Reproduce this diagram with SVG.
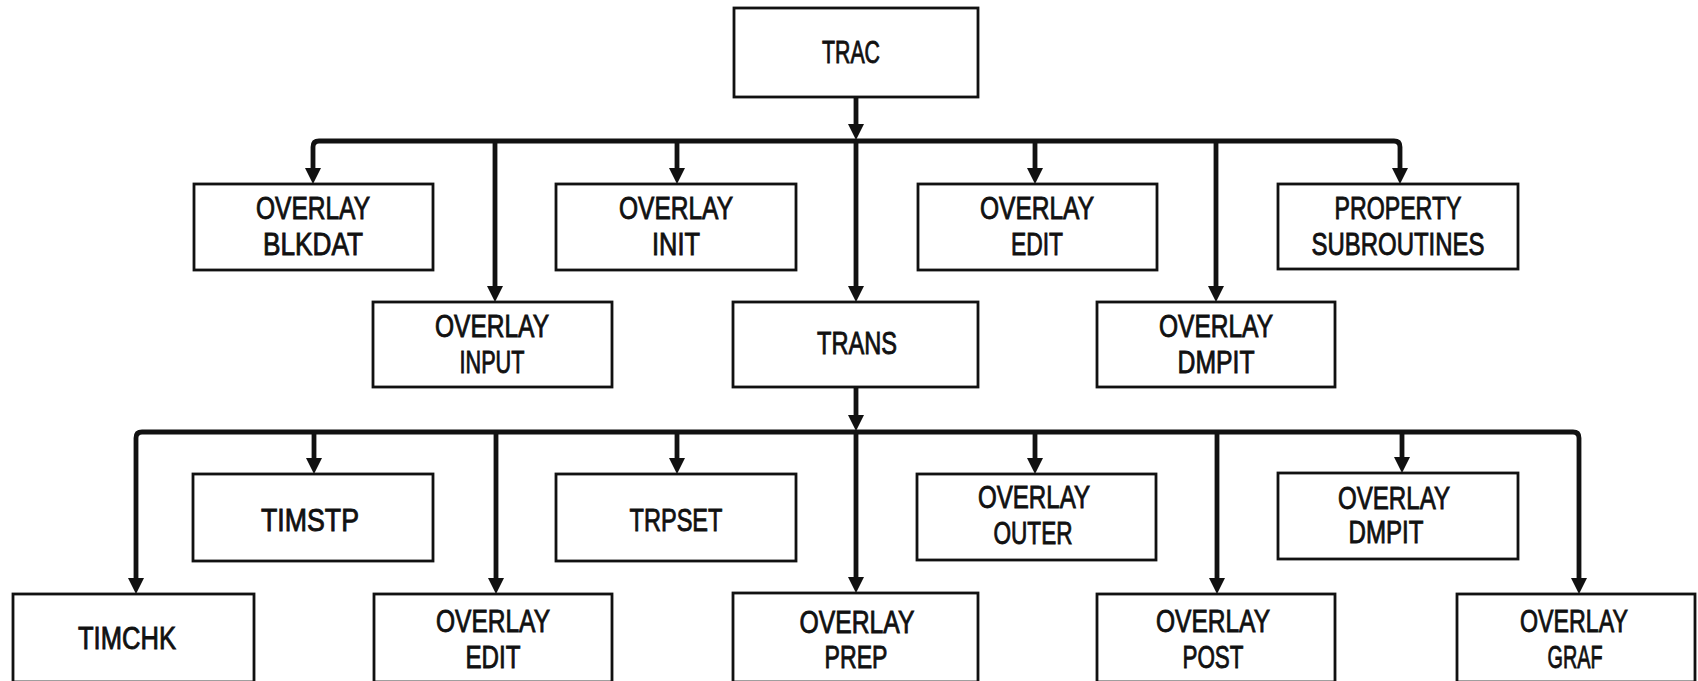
<svg xmlns="http://www.w3.org/2000/svg" width="1698" height="681" viewBox="0 0 1698 681">
  <style>
    .box { fill: #fff; stroke: #111; stroke-width: 2.8; }
    .lbl { font-family: "Liberation Sans", Arial, sans-serif; font-size: 32px; fill: #111; stroke: #111; stroke-width: 0.9; text-anchor: middle; }
    .wire { fill: none; stroke: #111; stroke-width: 4.8; stroke-linejoin: round; }
    .head { fill: #111; }
  </style>
  <defs>
    <!-- arrowhead, tip at the origin, pointing down -->
    <path id="ah" d="M-8,-16 L8,-16 L0,0 Z"/>
  </defs>
  <rect width="1698" height="681" fill="#fff"/>

  <!-- connectors -->
  <g id="connectors">
    <!-- TRAC to upper bus -->
    <path class="wire" d="M856,97 V126"/>
    <use href="#ah" class="head" x="856" y="140"/>
    <!-- upper bus -->
    <path class="wire" d="M313,171 V147 Q313,141 319,141 H1394 Q1400,141 1400,147 V171"/>
    <use href="#ah" class="head" x="313" y="184"/>
    <use href="#ah" class="head" x="1400" y="184"/>
    <path class="wire" d="M677,141 V171"/>
    <use href="#ah" class="head" x="677" y="184"/>
    <path class="wire" d="M1035,141 V171"/>
    <use href="#ah" class="head" x="1035" y="184"/>
    <path class="wire" d="M495,141 V289"/>
    <use href="#ah" class="head" x="495" y="302"/>
    <path class="wire" d="M856,141 V289"/>
    <use href="#ah" class="head" x="856" y="302"/>
    <path class="wire" d="M1216,141 V289"/>
    <use href="#ah" class="head" x="1216" y="302"/>

    <!-- TRANS to lower bus -->
    <path class="wire" d="M856,387 V417"/>
    <use href="#ah" class="head" x="856" y="431"/>
    <!-- lower bus -->
    <path class="wire" d="M136,581 V438 Q136,432 142,432 H1573 Q1579,432 1579,438 V581"/>
    <use href="#ah" class="head" x="136" y="594"/>
    <use href="#ah" class="head" x="1579" y="594"/>
    <path class="wire" d="M314,432 V461"/>
    <use href="#ah" class="head" x="314" y="474"/>
    <path class="wire" d="M677,432 V461"/>
    <use href="#ah" class="head" x="677" y="474"/>
    <path class="wire" d="M1035,432 V461"/>
    <use href="#ah" class="head" x="1035" y="474"/>
    <path class="wire" d="M1402,432 V460"/>
    <use href="#ah" class="head" x="1402" y="473"/>
    <path class="wire" d="M496,432 V581"/>
    <use href="#ah" class="head" x="496" y="594"/>
    <path class="wire" d="M856,432 V580"/>
    <use href="#ah" class="head" x="856" y="593"/>
    <path class="wire" d="M1217,432 V581"/>
    <use href="#ah" class="head" x="1217" y="594"/>
  </g>

  <!-- level 0 -->
  <g id="trac">
    <rect class="box" x="734" y="8" width="244" height="89"/>
    <text class="lbl" x="851" y="63" textLength="58" lengthAdjust="spacingAndGlyphs">TRAC</text>
  </g>

  <!-- level 1 -->
  <g id="overlay-blkdat">
    <rect class="box" x="194" y="184" width="239" height="86"/>
    <text class="lbl" x="313" y="219" textLength="114" lengthAdjust="spacingAndGlyphs">OVERLAY</text>
    <text class="lbl" x="313" y="255" textLength="100" lengthAdjust="spacingAndGlyphs">BLKDAT</text>
  </g>
  <g id="overlay-init">
    <rect class="box" x="556" y="184" width="240" height="86"/>
    <text class="lbl" x="676" y="219" textLength="114" lengthAdjust="spacingAndGlyphs">OVERLAY</text>
    <text class="lbl" x="676" y="255" textLength="48" lengthAdjust="spacingAndGlyphs">INIT</text>
  </g>
  <g id="overlay-edit">
    <rect class="box" x="918" y="184" width="239" height="86"/>
    <text class="lbl" x="1037" y="219" textLength="114" lengthAdjust="spacingAndGlyphs">OVERLAY</text>
    <text class="lbl" x="1037" y="255" textLength="52" lengthAdjust="spacingAndGlyphs">EDIT</text>
  </g>
  <g id="property-subroutines">
    <rect class="box" x="1278" y="184" width="240" height="85"/>
    <text class="lbl" x="1398" y="219" textLength="127" lengthAdjust="spacingAndGlyphs">PROPERTY</text>
    <text class="lbl" x="1398" y="255" textLength="173" lengthAdjust="spacingAndGlyphs">SUBROUTINES</text>
  </g>

  <!-- level 2 -->
  <g id="overlay-input">
    <rect class="box" x="373" y="302" width="239" height="85"/>
    <text class="lbl" x="492" y="337" textLength="114" lengthAdjust="spacingAndGlyphs">OVERLAY</text>
    <text class="lbl" x="492" y="373" textLength="65" lengthAdjust="spacingAndGlyphs">INPUT</text>
  </g>
  <g id="trans">
    <rect class="box" x="733" y="302" width="245" height="85"/>
    <text class="lbl" x="857" y="354" textLength="80" lengthAdjust="spacingAndGlyphs">TRANS</text>
  </g>
  <g id="overlay-dmpit">
    <rect class="box" x="1097" y="302" width="238" height="85"/>
    <text class="lbl" x="1216" y="337" textLength="114" lengthAdjust="spacingAndGlyphs">OVERLAY</text>
    <text class="lbl" x="1216" y="373" textLength="77" lengthAdjust="spacingAndGlyphs">DMPIT</text>
  </g>

  <!-- level 3 -->
  <g id="timstp">
    <rect class="box" x="193" y="474" width="240" height="87"/>
    <text class="lbl" x="310" y="531" textLength="98" lengthAdjust="spacingAndGlyphs">TIMSTP</text>
  </g>
  <g id="trpset">
    <rect class="box" x="556" y="474" width="240" height="87"/>
    <text class="lbl" x="676" y="531" textLength="93" lengthAdjust="spacingAndGlyphs">TRPSET</text>
  </g>
  <g id="overlay-outer">
    <rect class="box" x="917" y="474" width="239" height="86"/>
    <text class="lbl" x="1034" y="508" textLength="112" lengthAdjust="spacingAndGlyphs">OVERLAY</text>
    <text class="lbl" x="1033" y="544" textLength="79" lengthAdjust="spacingAndGlyphs">OUTER</text>
  </g>
  <g id="overlay-dmpit-2">
    <rect class="box" x="1278" y="473" width="240" height="86"/>
    <text class="lbl" x="1394" y="509" textLength="112" lengthAdjust="spacingAndGlyphs">OVERLAY</text>
    <text class="lbl" x="1386" y="543" textLength="75" lengthAdjust="spacingAndGlyphs">DMPIT</text>
  </g>

  <!-- level 4 -->
  <g id="timchk">
    <rect class="box" x="13" y="594" width="241" height="88"/>
    <text class="lbl" x="127" y="649" textLength="98" lengthAdjust="spacingAndGlyphs">TIMCHK</text>
  </g>
  <g id="overlay-edit-2">
    <rect class="box" x="374" y="594" width="238" height="88"/>
    <text class="lbl" x="493" y="632" textLength="114" lengthAdjust="spacingAndGlyphs">OVERLAY</text>
    <text class="lbl" x="493" y="668" textLength="55" lengthAdjust="spacingAndGlyphs">EDIT</text>
  </g>
  <g id="overlay-prep">
    <rect class="box" x="733" y="593" width="245" height="89"/>
    <text class="lbl" x="857" y="633" textLength="115" lengthAdjust="spacingAndGlyphs">OVERLAY</text>
    <text class="lbl" x="856" y="668" textLength="63" lengthAdjust="spacingAndGlyphs">PREP</text>
  </g>
  <g id="overlay-post">
    <rect class="box" x="1097" y="594" width="238" height="88"/>
    <text class="lbl" x="1213" y="632" textLength="114" lengthAdjust="spacingAndGlyphs">OVERLAY</text>
    <text class="lbl" x="1213" y="668" textLength="61" lengthAdjust="spacingAndGlyphs">POST</text>
  </g>
  <g id="overlay-graf">
    <rect class="box" x="1457" y="594" width="238" height="88"/>
    <text class="lbl" x="1574" y="632" textLength="108" lengthAdjust="spacingAndGlyphs">OVERLAY</text>
    <text class="lbl" x="1575" y="668" textLength="55" lengthAdjust="spacingAndGlyphs">GRAF</text>
  </g>
</svg>
